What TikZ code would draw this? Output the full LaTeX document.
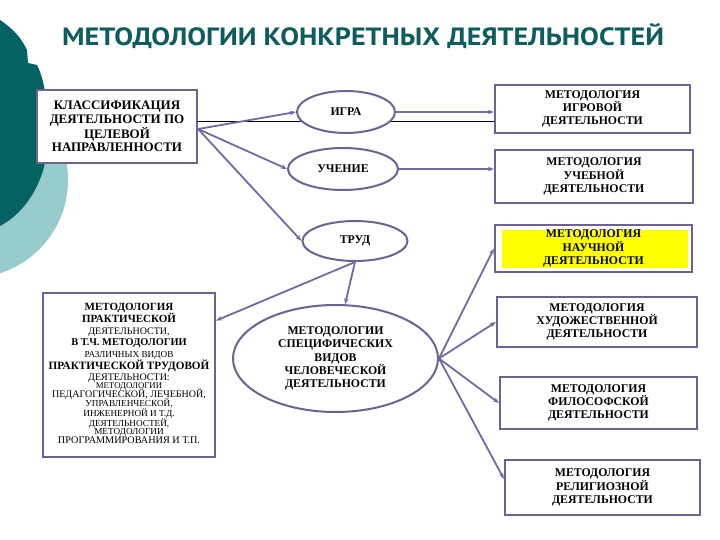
\documentclass[tikz,border=0pt]{standalone}
\usepackage{fontspec}
\usepackage{graphicx}
\setmainfont{Liberation Serif}
\newfontfamily\titlefont{PT Sans}
\usetikzlibrary{arrows.meta,shapes.geometric}
\definecolor{boxc}{RGB}{110,98,145}
\definecolor{conn}{RGB}{118,104,160}
\definecolor{darkteal}{RGB}{4,98,98}
\definecolor{lightteal}{RGB}{152,204,204}
\definecolor{titlec}{RGB}{14,92,94}
\definecolor{ylw}{RGB}{255,255,0}
\tikzset{
  rbox/.style={draw=boxc, line width=2.2pt, fill=white, align=center, inner sep=0pt,
    font=\bfseries\fontsize{11.8}{13.2}\selectfont},
  oval/.style={ellipse, draw=boxc, line width=2pt, fill=white, align=center, inner sep=0pt,
    font=\bfseries\fontsize{11.8}{13.2}\selectfont},
  arr/.style={draw=conn, line width=1.8pt, -{Stealth[length=6pt,width=4.5pt]}},
  pline/.style={anchor=base, inner sep=0pt, font=\fontsize{9.2}{10}\selectfont},
  plineb/.style={anchor=base, inner sep=0pt, font=\bfseries\fontsize{11}{12}\selectfont},
}
\begin{document}
\begin{tikzpicture}[x=1pt,y=-1pt]
\useasboundingbox (0,0) rectangle (720,540);
\fill[white] (0,0) rectangle (720,540);
% background shapes
\fill[lightteal] (-30,180) circle (98);
\fill[darkteal] (0,20) .. controls (12,28) and (21,37) .. (27,50) -- (28,63) -- (37,65)
  .. controls (45,80) and (49,110) .. (48,140) .. controls (47,175) and (30,210) .. (0,226) -- cycle;
% title
\node[font=\titlefont\bfseries\fontsize{25}{28}\selectfont, text=titlec, anchor=base west, inner sep=0pt]
  (title) at (62,46) {\scalebox{1.125}[1]{МЕТОДОЛОГИИ КОНКРЕТНЫХ ДЕЯТЕЛЬНОСТЕЙ}};
% classification box
\node[rbox, minimum width=160, minimum height=73, font=\bfseries\fontsize{13}{13.5}\selectfont]
  (cls) at (117,126.5) {КЛАССИФИКАЦИЯ\\ДЕЯТЕЛЬНОСТИ ПО\\ЦЕЛЕВОЙ\\НАПРАВЛЕННОСТИ};
% right boxes
\node[rbox, minimum width=195, minimum height=48] (m1) at (592.5,109) {МЕТОДОЛОГИЯ\\ИГРОВОЙ\\ДЕЯТЕЛЬНОСТИ};
\node[rbox, minimum width=198, minimum height=53] (m2) at (594,176.5) {МЕТОДОЛОГИЯ\\УЧЕБНОЙ\\ДЕЯТЕЛЬНОСТИ};
\node[rbox, minimum width=197, minimum height=47,
  path picture={\fill[ylw] ([shift={(7,5)}]path picture bounding box.north west) rectangle ([shift={(-4,-4)}]path picture bounding box.south east);}]
  (m3) at (593.5,248.5) {МЕТОДОЛОГИЯ\\НАУЧНОЙ\\ДЕЯТЕЛЬНОСТИ};
\node[rbox, minimum width=200, minimum height=50] (m4) at (597,322) {МЕТОДОЛОГИЯ\\ХУДОЖЕСТВЕННОЙ\\ДЕЯТЕЛЬНОСТИ};
\node[rbox, minimum width=197, minimum height=52] (m5) at (598.5,403) {МЕТОДОЛОГИЯ\\ФИЛОСОФСКОЙ\\ДЕЯТЕЛЬНОСТИ};
\node[rbox, minimum width=195, minimum height=55] (m6) at (602.5,487.5) {МЕТОДОЛОГИЯ\\РЕЛИГИОЗНОЙ\\ДЕЯТЕЛЬНОСТИ};
% left practical box (lines set one by one)
\node[rbox, minimum width=172, minimum height=164] (pbox) at (129,375) {};
\node[plineb] (pl1) at (129,310) {МЕТОДОЛОГИЯ};
\node[plineb] (pl2) at (129,322) {ПРАКТИЧЕСКОЙ};
\node[pline, font=\fontsize{10}{11}\selectfont] (pl3) at (129,334) {ДЕЯТЕЛЬНОСТИ,};
\node[plineb, font=\bfseries\fontsize{10.4}{11}\selectfont] (pl4) at (129,345) {В Т.Ч. МЕТОДОЛОГИИ};
\node[pline] (pl5) at (129,357.5) {РАЗЛИЧНЫХ ВИДОВ};
\node[plineb, font=\bfseries\fontsize{11.2}{12}\selectfont] (pl6) at (129,369) {ПРАКТИЧЕСКОЙ ТРУДОВОЙ};
\node[pline, font=\fontsize{10}{11}\selectfont] (pl7) at (129,380) {ДЕЯТЕЛЬНОСТИ:};
\node[pline, font=\fontsize{8.8}{9}\selectfont] (pl8) at (129,388.5) {МЕТОДОЛОГИИ};
\node[pline, font=\fontsize{10}{11}\selectfont] (pl9) at (129,397.5) {ПЕДАГОГИЧЕСКОЙ, ЛЕЧЕБНОЙ,};
\node[pline] (pl10) at (129,406.5) {УПРАВЛЕНЧЕСКОЙ,};
\node[pline] (pl11) at (129,416) {ИНЖЕНЕРНОЙ И Т.Д.};
\node[pline] (pl12) at (129,426) {ДЕЯТЕЛЬНОСТЕЙ,};
\node[pline] (pl13) at (129,434.5) {МЕТОДОЛОГИИ};
\node[pline, font=\fontsize{10.2}{11}\selectfont] (pl14) at (129,443) {ПРОГРАММИРОВАНИЯ И Т.П.};
% thin black line behind ИГРА
\draw[black, line width=0.8pt] ([yshift=5.5pt]cls.east) -- ([yshift=5.5pt]cls.east -| m1.west);
% ellipses
\node[oval, minimum width=98, minimum height=42] (igra) at (346,112) {ИГРА};
\node[oval, minimum width=110, minimum height=42] (uch) at (343,169) {УЧЕНИЕ};
\node[oval, minimum width=105, minimum height=40] (trud) at (355,241) {ТРУД};
\node[oval, minimum width=205, minimum height=107] (spec) at (335.5,358.5)
  {МЕТОДОЛОГИИ\\СПЕЦИФИЧЕСКИХ\\ВИДОВ\\ЧЕЛОВЕЧЕСКОЙ\\ДЕЯТЕЛЬНОСТИ};
% connectors
\coordinate (h1) at ([yshift=-2.5pt]cls.east);
\draw[arr] (h1) -- (igra.west);
\draw[arr] (h1) -- (uch.west);
\draw[arr] (h1) -- (trud.west);
\draw[arr] (igra.east) -- (igra.east -| m1.west);
\draw[arr] (uch.east) -- (uch.east -| m2.west);
\draw[arr] (trud.south) -- (pbox.32);
\draw[arr] (trud.south) -- (spec.80);
\draw[arr] (spec.east) -- (m3.west);
\draw[arr] (spec.east) -- (m4.west);
\draw[arr] (spec.east) -- (m5.west);
\draw[arr] (spec.east) -- (m6.175);
\end{tikzpicture}
\end{document}
